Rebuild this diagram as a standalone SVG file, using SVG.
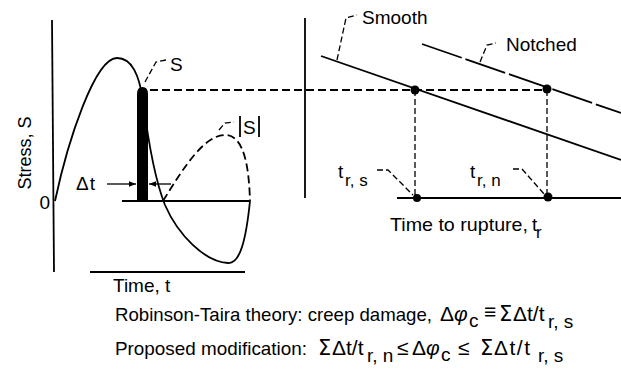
<svg xmlns="http://www.w3.org/2000/svg" width="621" height="375" viewBox="0 0 621 375">
<style>
.t{font-family:"Liberation Sans",Arial,sans-serif;font-size:19px;fill:#000}
.s{font-family:"Liberation Sans",Arial,sans-serif;font-size:17px;fill:#000}
.f{font-family:"Liberation Sans",Arial,sans-serif;font-size:21px;fill:#000}
.fs{font-family:"Liberation Sans",Arial,sans-serif;font-size:19px;fill:#000}
.sig{font-family:"DejaVu Sans","Liberation Sans",sans-serif;font-size:21px;fill:#000}
.ln{fill:none;stroke:#000;stroke-width:1.8}
.dash{fill:none;stroke:#000;stroke-width:1.8;stroke-dasharray:8 4}
.ld{fill:none;stroke:#000;stroke-width:1.3;stroke-dasharray:6 3}
</style>
<defs>
<marker id="ah" viewBox="0 0 10 10" refX="10" refY="5" markerWidth="12" markerHeight="7" markerUnits="userSpaceOnUse" orient="auto">
<path d="M0,1 L10,5 L0,9 Z" fill="#000"/>
</marker>
</defs>
<rect width="621" height="375" fill="#fff"/>

<g id="left-chart">
<line class="ln" x1="52" y1="20" x2="54" y2="272"/>
<line class="ln" x1="122" y1="201" x2="250" y2="201"/>
<line class="ln" x1="90" y1="272" x2="245" y2="272"/>
<text class="t" transform="translate(31,153) rotate(-90)" text-anchor="middle" textLength="73" lengthAdjust="spacingAndGlyphs">Stress, S</text>
<text class="t" x="50" y="209" text-anchor="end">0</text>
<path class="ln" d="M55,201 C68,140 95,58 117,58 C132,58 139,75 143,100 C148,140 155,180 165,205 C178,235 205,262 228,263 C240,264 246,240 250,201"/>
<path class="dash" d="M163,201 C185,165 205,135 225,135 C245,135 249,170 250,201"/>
<path d="M137,201 L137,94 Q137,87 142.5,87 Q148,87 148,94 L148,201 Z" fill="#000"/>
<text class="t" x="76" y="190" letter-spacing="1">Δt</text>
<line x1="107" y1="184" x2="136" y2="184" stroke="#000" stroke-width="1.3" marker-end="url(#ah)"/>
<line x1="171" y1="184" x2="149" y2="184" stroke="#000" stroke-width="1.3" marker-end="url(#ah)"/>
<text class="t" x="113" y="292">Time, t</text>
</g>

<g id="label-S">
<path class="ld" d="M145,82 L156,62 L166,60"/>
<text class="t" x="170" y="71">S</text>
</g>

<g id="label-absS">
<path class="ld" d="M219,130 L225,123 L234,122"/>
<line class="ln" x1="240" y1="116" x2="240" y2="137"/>
<text class="t" x="243" y="134">S</text>
<line class="ln" x1="259" y1="116" x2="259" y2="137"/>
</g>

<g id="connectors">
<line class="dash" x1="150" y1="90" x2="547" y2="90"/>
<line class="ld" x1="415" y1="90" x2="415" y2="198" stroke-width="1.8"/>
<line class="ld" x1="547" y1="90" x2="547" y2="198" stroke-width="1.8"/>
</g>

<g id="right-chart">
<line class="ln" x1="305" y1="18" x2="305" y2="198"/>
<line class="ln" x1="397" y1="198" x2="621" y2="198"/>
<line class="ln" x1="321" y1="56" x2="621" y2="160"/>
<line class="ln" x1="422" y1="44" x2="621" y2="113" stroke-dasharray="42 4"/>
<circle cx="415" cy="90" r="4.5" fill="#000"/>
<circle cx="547" cy="89" r="4.5" fill="#000"/>
<circle cx="417" cy="198" r="4" fill="#000"/>
<circle cx="548" cy="197" r="4.5" fill="#000"/>
<text class="t" x="390" y="231" textLength="138" lengthAdjust="spacingAndGlyphs">Time to rupture,</text>
<text class="t" x="532" y="231">t</text>
<text class="s" x="536" y="238">r</text>
</g>

<g id="label-smooth">
<path class="ld" d="M337,60 L346,18 L357,15"/>
<text class="t" x="362" y="24">Smooth</text>
</g>

<g id="label-notched">
<path class="ld" d="M480,62 L487,45 L496,43"/>
<text class="t" x="506" y="51">Notched</text>
</g>

<g id="label-trs">
<text class="t" x="338" y="178">t</text>
<text class="s" x="345" y="186">r, s</text>
<path class="ld" d="M377,170 L388,170 L413,195"/>
</g>

<g id="label-trn">
<text class="t" x="470" y="178">t</text>
<text class="s" x="477" y="186">r, n</text>
<path class="ld" d="M513,169 L522,169 L545,195"/>
</g>

<g id="caption">
<text class="t" x="115" y="321" textLength="317" lengthAdjust="spacingAndGlyphs">Robinson-Taira theory: creep damage,</text>
<text class="f" x="440" y="321">Δ<tspan font-style="italic">φ</tspan></text>
<text class="fs" x="469" y="327">c</text>
<text class="f" x="484" y="319">≡</text>
<text class="sig" x="499" y="321">Σ</text>
<text class="f" x="513" y="321">Δt/t</text>
<text class="fs" x="548" y="328">r, s</text>
<text class="t" x="115" y="355" textLength="192" lengthAdjust="spacingAndGlyphs">Proposed modification:</text>
<text class="sig" x="318" y="355">Σ</text>
<text class="f" x="332" y="355">Δt/t</text>
<text class="fs" x="367" y="362">r, n</text>
<text class="f" x="397" y="355">≤</text>
<text class="f" x="412" y="355">Δ<tspan font-style="italic">φ</tspan></text>
<text class="fs" x="441" y="361">c</text>
<text class="f" x="458" y="355">≤</text>
<text class="sig" x="480" y="355">Σ</text>
<text class="f" x="494" y="355" letter-spacing="1.5">Δt/t</text>
<text class="fs" x="538" y="362">r, s</text>
</g>
</svg>
